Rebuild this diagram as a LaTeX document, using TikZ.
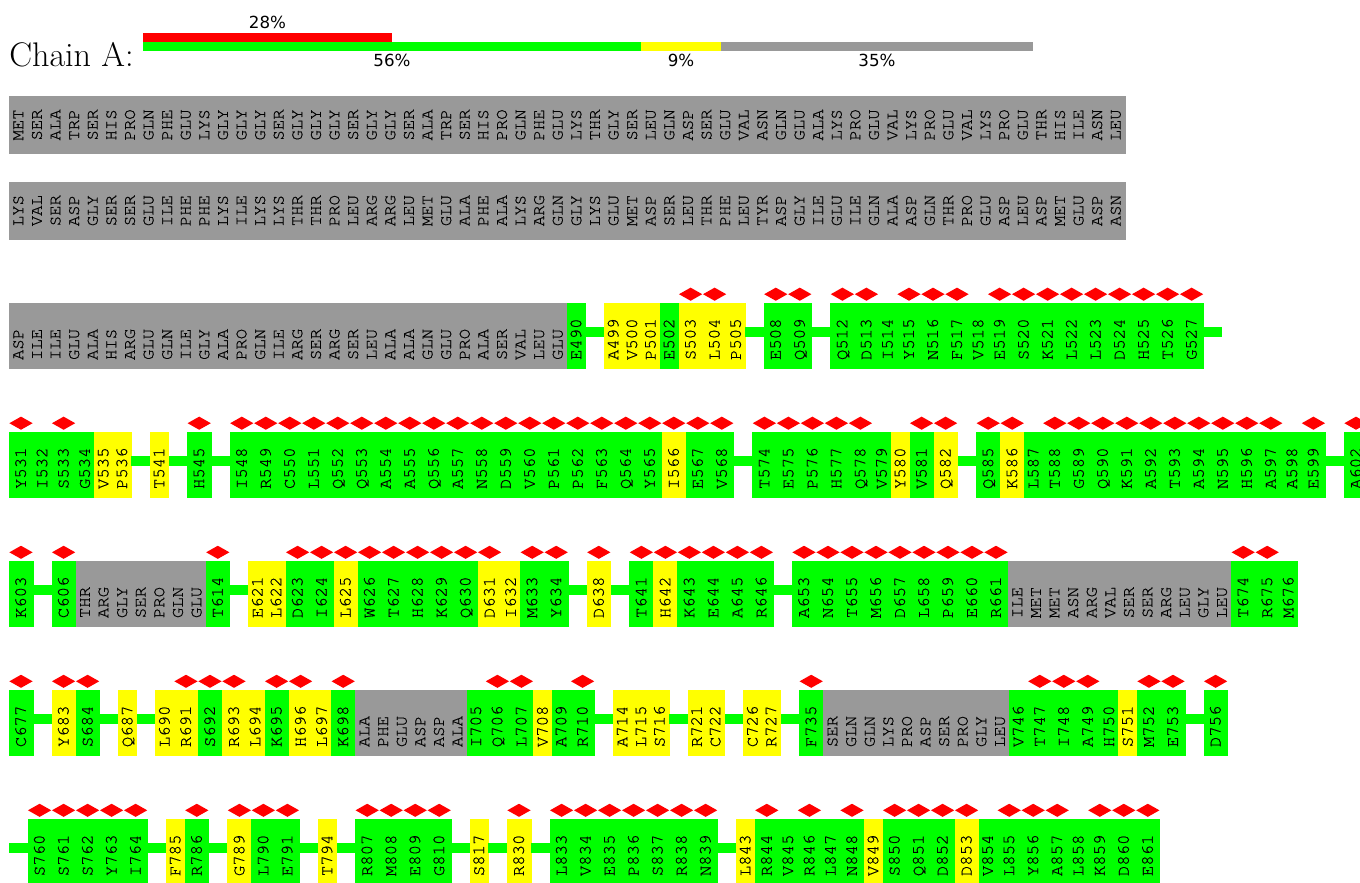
\documentclass[tikz,border=0pt]{standalone}
\usepackage{fontspec}
\usepackage{tikz}
\usetikzlibrary{shapes.geometric,positioning,calc}
\newfontfamily\pctfont{DejaVu Sans}
\newfontfamily\resfont{texgyrecursor-regular.otf}[FakeBold=0.6]
\definecolor{resgreen}{RGB}{0,255,0}
\definecolor{resyellow}{RGB}{255,255,0}
\definecolor{resgray}{RGB}{153,153,153}
\definecolor{resred}{RGB}{255,0,0}

\tikzset{
  reslabel/.style={rotate=90, anchor=west, inner sep=0pt, text height=7.4pt, text depth=0pt,
    font={\resfont\bfseries\fontsize{13}{13}\selectfont}},
  resmark/.style={diamond, fill=resred, inner sep=0pt, minimum width=17.6pt, minimum height=10pt},
  pct/.style={font={\pctfont\fontsize{12.5}{13}\selectfont}, inner sep=0pt},
  kind n/.code={\def\rescol{resgray}\def\resw{18.6}\def\resmk{0}\def\resgap{0}},
  kind g/.code={\def\rescol{resgreen}\def\resw{18.6}\def\resmk{0}\def\resgap{0}},
  kind G/.code={\def\rescol{resgreen}\def\resw{24}\def\resmk{1}\def\resgap{0}},
  kind y/.code={\def\rescol{resyellow}\def\resw{18.6}\def\resmk{0}\def\resgap{0}},
  kind Y/.code={\def\rescol{resyellow}\def\resw{24}\def\resmk{1}\def\resgap{0}},
  kind -/.code={\def\rescol{resgreen}\def\resw{18.6}\def\resmk{0}\def\resgap{1}}
}

% one row of residues: top, height, label offset, row name, list
\newcommand{\resrow}[5]{%
  \xdef\curx{9}%
  \foreach \k/\lab [count=\i] in {#5}{%
    \edef\reskey{kind \k}\expandafter\tikzset\expandafter{\reskey}%
    \ifnum\resgap=1
      \fill[fill=resgreen] ({\curx},{#1+24}) rectangle ++(\resw,10.5);
    \else
      \fill[fill=\rescol] ({\curx},{#1}) rectangle ++({\resw+0.5},#2);
      \node[reslabel] (#4-\i) at ({\curx+\resw/2},{#1+#2-#3}) {\lab};
      \ifnum\resmk=1
        \node[resmark] (#4-\i-m) at ({\curx+\resw/2},{#1-8.5}) {};
      \fi
    \fi
    \pgfmathsetmacro\nextx{\curx+\resw}%
    \xdef\curx{\nextx}%
  }%
}

\begin{document}
\begin{tikzpicture}[x=0.75pt, y=-0.75pt]
  \useasboundingbox (0,0) rectangle (1360,882);
  \clip (0,0) rectangle (1360,882);

  \node[anchor=base west, inner sep=0pt, font=\fontsize{25.6}{30}\selectfont] (chain) at (9,66.7) {Chain A:};
  \fill[fill=resred] (143,33.3) rectangle (392,41.7);
  \fill[fill=resgreen] (143,42.3) rectangle (641,50.7);
  \fill[fill=resyellow] (641,42.3) rectangle (721,50.7);
  \fill[fill=resgray] (721,42.3) rectangle (1033,50.7);
  \node[pct] (p28) at (267.5,22.5) {28\%};
  \node[pct] (p56) at (392,60) {56\%};
  \node[pct] (p9) at (681,60) {9\%};
  \node[pct] (p35) at (877,60) {35\%};

  \resrow{96.3}{57.5}{13}{ra}{n/MET,n/SER,n/ALA,n/TRP,n/SER,n/HIS,n/PRO,n/GLN,n/PHE,n/GLU,n/LYS,n/GLY,n/GLY,n/GLY,n/SER,
    n/GLY,n/GLY,n/GLY,n/SER,n/GLY,n/GLY,n/SER,n/ALA,n/TRP,n/SER,n/HIS,n/PRO,n/GLN,n/PHE,n/GLU,
    n/LYS,n/THR,n/GLY,n/SER,n/LEU,n/GLN,n/ASP,n/SER,n/GLU,n/VAL,n/ASN,n/GLN,n/GLU,n/ALA,n/LYS,
    n/PRO,n/GLU,n/VAL,n/LYS,n/PRO,n/GLU,n/VAL,n/LYS,n/PRO,n/GLU,n/THR,n/HIS,n/ILE,n/ASN,n/LEU}

  \resrow{182}{57.5}{13}{rb}{n/LYS,n/VAL,n/SER,n/ASP,n/GLY,n/SER,n/SER,n/GLU,n/ILE,n/PHE,n/PHE,n/LYS,n/ILE,n/LYS,n/LYS,
    n/THR,n/THR,n/PRO,n/LEU,n/ARG,n/ARG,n/LEU,n/MET,n/GLU,n/ALA,n/PHE,n/ALA,n/LYS,n/ARG,n/GLN,
    n/GLY,n/LYS,n/GLU,n/MET,n/ASP,n/SER,n/LEU,n/THR,n/PHE,n/LEU,n/TYR,n/ASP,n/GLY,n/ILE,n/GLU,
    n/ILE,n/GLN,n/ALA,n/ASP,n/GLN,n/THR,n/PRO,n/GLU,n/ASP,n/LEU,n/ASP,n/MET,n/GLU,n/ASP,n/ASN}

  \resrow{302.7}{66.6}{9}{rc}{n/ASP,n/ILE,n/ILE,n/GLU,n/ALA,n/HIS,n/ARG,n/GLU,n/GLN,n/ILE,n/GLY,n/ALA,n/PRO,n/GLN,n/ILE,
    n/ARG,n/SER,n/ARG,n/SER,n/LEU,n/ALA,n/ALA,n/GLN,n/GLU,n/PRO,n/ALA,n/SER,n/VAL,n/LEU,n/GLU,
    g/E490,-/-,y/A499,y/V500,y/P501,g/E502,Y/S503,Y/L504,y/P505,-/-,G/E508,G/Q509,-/-,
    G/Q512,G/D513,g/I514,G/Y515,G/N516,G/F517,g/V518,G/E519,G/S520,G/K521,G/L522,G/L523,
    G/D524,G/H525,G/T526,G/G527,-/-}

  \resrow{431.7}{66.6}{9}{rd}{G/Y531,g/I532,G/S533,g/G534,y/V535,y/P536,-/-,y/T541,-/-,G/H545,-/-,
    G/I548,G/R549,G/C550,G/L551,G/Q552,G/Q553,G/A554,G/A555,G/Q556,G/A557,G/N558,G/D559,
    G/V560,G/P561,G/P562,G/F563,G/Q564,G/Y565,Y/I566,G/E567,G/V568,-/-,G/T574,G/E575,G/P576,
    G/H577,G/Q578,g/V579,y/Y580,G/V581,Y/Q582,-/-,G/Q585,Y/K586,g/L587,G/T588,G/G589,G/Q590,
    G/K591,G/A592,G/T593,G/A594,G/N595,G/H596,G/A597,g/A598,G/E599,-/-,G/A602}

  \resrow{560.8}{66.6}{9}{re}{G/K603,-/-,G/C606,n/THR,n/ARG,n/GLY,n/SER,n/PRO,n/GLN,n/GLU,G/T614,-/-,
    y/E621,y/L622,G/D623,G/I624,Y/L625,G/W626,G/T627,G/H628,G/K629,G/Q630,Y/D631,y/I632,
    G/M633,G/Y634,-/-,Y/D638,-/-,G/T641,Y/H642,G/K643,G/E644,G/A645,G/R646,-/-,G/A653,G/N654,
    G/T655,G/M656,G/D657,G/L658,G/P659,G/E660,G/R661,n/ILE,n/MET,n/MET,n/ASN,n/ARG,n/VAL,
    n/SER,n/SER,n/ARG,n/LEU,n/GLY,n/LEU,G/T674,G/R675,g/M676}

  \resrow{689.8}{66.6}{9}{rf}{G/C677,-/-,Y/Y683,G/S684,-/-,y/Q687,-/-,y/L690,Y/R691,G/S692,Y/R693,y/L694,
    G/K695,Y/H696,y/L697,G/K698,n/ALA,n/PHE,n/GLU,n/ASP,n/ASP,n/ALA,g/I705,G/Q706,G/L707,
    y/V708,g/A709,G/R710,-/-,y/A714,y/L715,y/S716,-/-,y/R721,y/C722,-/-,y/C726,y/R727,-/-,
    G/F735,n/SER,n/GLN,n/GLN,n/LYS,n/PRO,n/ASP,n/SER,n/PRO,n/GLY,n/LEU,g/V746,G/T747,G/I748,
    G/A749,g/H750,y/S751,G/M752,G/E753,-/-,G/D756}

  \resrow{818.8}{66.6}{9}{rg}{-/-,G/S760,G/S761,G/S762,G/Y763,G/I764,-/-,y/F785,G/R786,-/-,Y/G789,G/L790,
    G/E791,-/-,y/T794,-/-,G/R807,G/M808,G/E809,G/G810,-/-,y/S817,-/-,Y/R830,-/-,G/L833,G/V834,
    G/E835,G/P836,G/S837,G/R838,G/N839,-/-,y/L843,G/R844,g/V845,G/R846,g/L847,G/N848,y/V849,
    G/S850,G/Q851,G/D852,Y/D853,g/V854,G/L855,G/Y856,G/A857,g/L858,G/K859,G/D860,G/E861}
\end{tikzpicture}
\end{document}
